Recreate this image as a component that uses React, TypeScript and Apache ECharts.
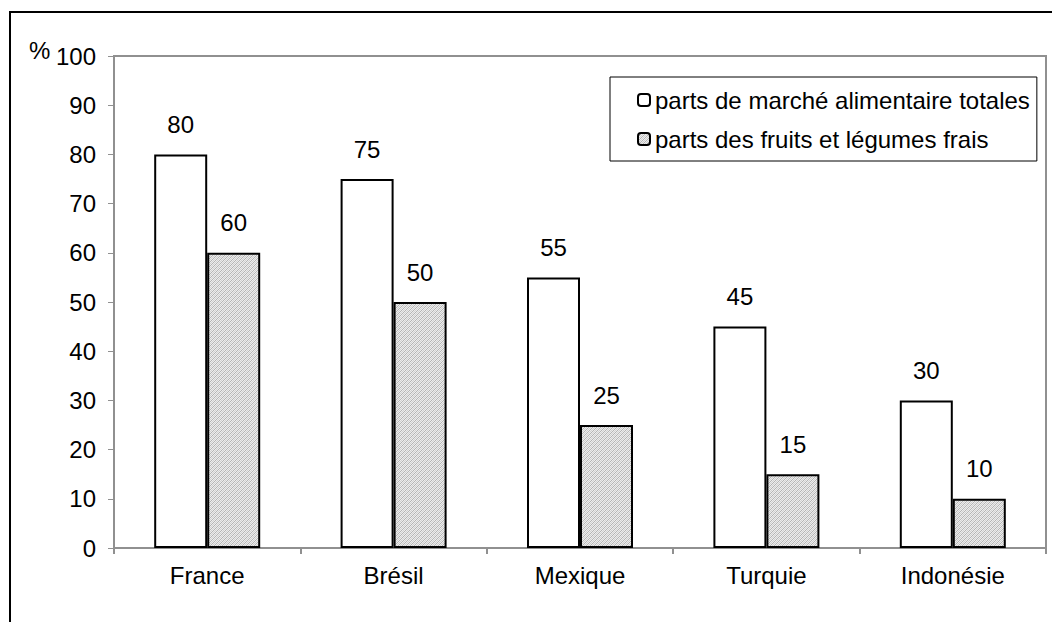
import React, { useEffect, useRef } from "react";
import * as echarts from "echarts";

const categories = ["France", "Brésil", "Mexique", "Turquie", "Indonésie"];
const seriesNames = ["parts de marché alimentaire totales", "parts des fruits et légumes frais"];
const totalShares = [80, 75, 55, 45, 30];
const freshShares = [60, 50, 25, 15, 10];
const yTicks = { min: 0, max: 100, interval: 10 };

function makePattern(): HTMLCanvasElement {
  const c = document.createElement("canvas");
  c.width = 4;
  c.height = 4;
  const ctx = c.getContext("2d")!;
  ctx.fillStyle = "#ececec";
  ctx.fillRect(0, 0, 4, 4);
  ctx.fillStyle = "#b4b4b4";
  for (let i = 0; i < 4; i++) {
    ctx.fillRect(i, 3 - i, 1, 1);
  }
  ctx.fillStyle = "#d0d0d0";
  for (let i = 0; i < 4; i++) {
    ctx.fillRect(i, (5 - i) % 4, 1, 1);
  }
  return c;
}

export default function App() {
  const ref = useRef<HTMLDivElement>(null);
  useEffect(() => {
    if (!ref.current) return;
    const chart = echarts.init(ref.current, undefined, { renderer: "svg" });
    const font = "'Liberation Sans', Arial, sans-serif";
    const fs = 24;
    const pattern = { image: makePattern(), repeat: "repeat" as const };
    chart.setOption({
      animation: false,
      backgroundColor: "#ffffff",
      textStyle: { fontFamily: font },
      grid: {
        left: 114,
        top: 56,
        right: 6,
        bottom: 74,
        show: true,
        borderColor: "#909090",
        borderWidth: 2,
        containLabel: false,
      },
      legend: {
        orient: "vertical",
        left: 610,
        top: 77,
        itemWidth: 12,
        itemHeight: 12,
        itemGap: 15,
        padding: [11, 7, 10, 27],
        borderColor: "#000",
        borderWidth: 1,
        textStyle: { fontSize: fs, color: "#000", fontFamily: font },
        data: seriesNames,
      },
      xAxis: {
        type: "category",
        data: categories,
        axisLine: { lineStyle: { color: "#909090", width: 2 } },
        axisTick: { show: true, length: 6, lineStyle: { color: "#909090", width: 2 } },
        axisLabel: { fontSize: fs, color: "#000", margin: 15, fontFamily: font },
      },
      yAxis: {
        type: "value",
        min: yTicks.min,
        max: yTicks.max,
        interval: yTicks.interval,
        splitLine: { show: false },
        axisLine: { show: true, lineStyle: { color: "#909090", width: 2 } },
        axisTick: { show: true, length: 6, lineStyle: { color: "#909090", width: 1 } },
        axisLabel: { fontSize: fs, color: "#000", margin: 18, fontFamily: font },
      },
      series: [
        {
          name: seriesNames[0],
          type: "bar",
          data: totalShares,
          barWidth: 53,
          barGap: "0%",
          itemStyle: { color: "#ffffff", borderColor: "#000", borderWidth: 2 },
          label: { show: true, position: "top", distance: 18, fontSize: fs, color: "#000", fontFamily: font },
        },
        {
          name: seriesNames[1],
          type: "bar",
          data: freshShares,
          barWidth: 53,
          barGap: "0%",
          itemStyle: { color: pattern, borderColor: "#000", borderWidth: 2 },
          label: { show: true, position: "top", distance: 18, fontSize: fs, color: "#000", fontFamily: font },
        },
      ],
      graphic: [
        {
          type: "rect",
          shape: { x: 10, y: 12, width: 1100, height: 700 },
          style: { fill: "none", stroke: "#000", lineWidth: 2 },
          silent: true,
        },
        {
          type: "text",
          left: 29,
          top: 38,
          style: { text: "%", fontSize: fs, fill: "#000", fontFamily: font },
        },
      ],
    });
    return () => chart.dispose();
  }, []);
  return (
    <div
      ref={ref}
      style={{ position: "fixed", left: 0, top: 0, width: 1052, height: 622 }}
    />
  );
}
